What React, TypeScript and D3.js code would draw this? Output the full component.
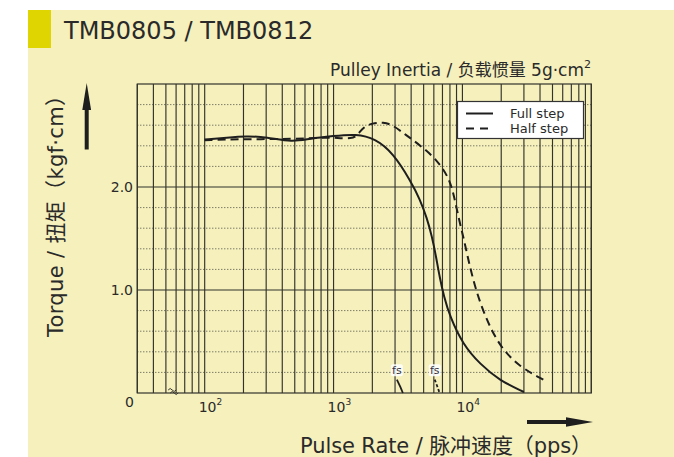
import React from "react";
import * as d3 from "d3";

// ---- data ----
const fullRate = [100, 150, 210, 300, 480, 650, 1000, 1500, 2100, 2900, 4000, 4680, 5300, 5800, 6230, 6690, 7180, 8000, 10100, 13700, 19500, 30000];
const fullTorque = [2.46, 2.48, 2.495, 2.485, 2.435, 2.47, 2.495, 2.515, 2.47, 2.33, 2.05, 1.88, 1.70, 1.52, 1.33, 1.11, 0.94, 0.74, 0.47, 0.28, 0.12, 0.01];
const halfRate = [100, 200, 500, 800, 1000, 1400, 1550, 1700, 2000, 2430, 2900, 3500, 4000, 5200, 6300, 7100, 7750, 8250, 8750, 9550, 10450, 11300, 12900, 15400, 19500, 27900, 43000];
const halfTorque = [2.455, 2.465, 2.465, 2.48, 2.48, 2.465, 2.51, 2.58, 2.62, 2.63, 2.60, 2.52, 2.47, 2.36, 2.26, 2.17, 2.09, 2.0, 1.87, 1.65, 1.45, 1.25, 0.97, 0.71, 0.45, 0.25, 0.126];
const fsFullRate = [3100, 3300, 3450];
const fsFullTorque = [0.13, 0.06, 0];
const fsHalfRate = [6100, 6400, 6650];
const fsHalfTorque = [0.13, 0.06, 0];

const xDomain = [30, 100000];
const yDomain = [0, 3];
const gridMantissas = [1, 2, 3, 4, 5, 6, 7, 8, 9];
const gridDecades = [10, 100, 1000, 10000, 100000];
const xLabelExps = [2, 3, 4];
const yMajor = [1.0, 2.0];
const yMinorStep = 0.2;
const yLabels = ["1.0", "2.0"];
const breakRate = 54;

const title = "TMB0805 / TMB0812";
const subtitle = "Pulley Inertia / 负载惯量 5g·cm";
const xTitleParts = ["Pulse Rate / 脉冲速度", "（", "pps", "）"];
const yTitleParts = ["Torque / 扭矩", "（", "kgf·cm", "）"];
const legendLabels = ["Full step", "Half step"];

const FONT = "'DejaVu Sans', 'Noto Sans CJK SC', sans-serif";
const CJK = "'Noto Sans CJK SC', sans-serif";
const INK = "#2a2a2a";

export default function App() {
  const W = 674, H = 457;
  const left = 137.3, right = 591.3, top = 84, bottom = 393;
  const x = d3.scaleLog().domain(xDomain).range([left, right]);
  const y = d3.scaleLinear().domain(yDomain).range([bottom, top]);

  const gridVals: number[] = [];
  gridDecades.forEach((d) => gridMantissas.forEach((m) => {
    const v = d * m;
    if (v >= xDomain[0] - 1e-9 && v <= xDomain[1] + 1e-9) gridVals.push(v);
  }));

  const minorY: number[] = [];
  for (let i = 1; i < Math.round(yDomain[1] / yMinorStep); i++) {
    const v = +(i * yMinorStep).toFixed(2);
    if (!yMajor.some((m) => Math.abs(m - v) < 1e-6)) minorY.push(v);
  }

  const line = d3.line<[number, number]>()
    .x((d) => x(d[0]))
    .y((d) => y(d[1]))
    .curve(d3.curveBasis);

  const fullPath = line(fullRate.map((r, i) => [r, fullTorque[i]]) as [number, number][]) || "";
  const halfPath = line(halfRate.map((r, i) => [r, halfTorque[i]]) as [number, number][]) || "";
  const fsFullPath = line(fsFullRate.map((r, i) => [r, fsFullTorque[i]]) as [number, number][]) || "";
  const fsHalfPath = line(fsHalfRate.map((r, i) => [r, fsHalfTorque[i]]) as [number, number][]) || "";

  const dash = "8,5";
  const bx = x(breakRate);

  const titleSpans = (parts: string[]) => [
    <tspan key="a">{parts[0]}</tspan>,
    <tspan key="b" fontFamily={CJK}>{parts[1]}</tspan>,
    <tspan key="c">{parts[2]}</tspan>,
    <tspan key="d" fontFamily={CJK}>{parts[3]}</tspan>,
  ];

  return (
    <svg width={W} height={H} viewBox={`0 0 ${W} ${H}`}
      style={{ position: "absolute", left: 0, top: 0, background: "#ffffff" }}
      fontFamily={FONT}>
      {/* panel */}
      <rect x={28} y={10} width={W - 28} height={H - 10} fill="#f5f0bc" />
      <rect x={28} y={10} width={23} height={38} fill="#dfd500" />
      <text x={64} y={39} fontSize={24} fill={INK}>{title}</text>
      <text x={591} y={75.5} fontSize={17} fill={INK} textAnchor="end">
        {subtitle}<tspan fontSize={11} dy={-8}>2</tspan>
      </text>

      {/* grid minor dotted */}
      {minorY.map((v) => (
        <line key={"m" + v} x1={left} x2={right} y1={y(v)} y2={y(v)}
          stroke="#4a4a40" strokeWidth={1} strokeDasharray="1,2" />
      ))}
      {/* vertical grid */}
      {gridVals.map((v) => (
        <line key={"v" + v} x1={x(v)} x2={x(v)} y1={top} y2={bottom}
          stroke="#33332c" strokeWidth={1.15} />
      ))}
      {/* major horizontal */}
      {yMajor.map((v) => (
        <line key={"M" + v} x1={left} x2={right} y1={y(v)} y2={y(v)}
          stroke="#33332c" strokeWidth={1.1} />
      ))}
      <rect x={left} y={top} width={right - left} height={bottom - top}
        fill="none" stroke="#33332c" strokeWidth={1.2} />

      {/* axis break mark */}
      <path d={`M${bx - 2},${bottom - 3} q2,-3 4,0 q2,3 4,0 M${bx},${bottom} q2,-3 4,0 q2,3 4,0`}
        fill="none" stroke="#33332c" strokeWidth={1} />

      {/* curves */}
      <path d={fullPath} fill="none" stroke="#1e1e1e" strokeWidth={2} />
      <path d={halfPath} fill="none" stroke="#1e1e1e" strokeWidth={2} strokeDasharray={dash} />
      <path d={fsFullPath} fill="none" stroke="#1e1e1e" strokeWidth={1.8} />
      <path d={fsHalfPath} fill="none" stroke="#1e1e1e" strokeWidth={1.8} strokeDasharray="3,2" />

      {/* fs labels */}
      {[fsFullRate[0], fsHalfRate[0]].map((r, i) => (
        <g key={"fs" + i}>
          <rect x={x(r) - 6} y={y(0.22) - 6} width={12} height={12} rx={2} fill="#ffffff" fillOpacity={0.85} />
          <text x={x(r)} y={y(0.22) + 4} fontSize={11} fill="#333344" textAnchor="middle">fs</text>
        </g>
      ))}

      {/* legend */}
      <rect x={457.5} y={101.5} width={126} height={37} fill="#ffffff" stroke="#333" strokeWidth={1.2} />
      <line x1={466} x2={493} y1={113.5} y2={113.5} stroke="#1e1e1e" strokeWidth={2} />
      <line x1={466} x2={493} y1={128.5} y2={128.5} stroke="#1e1e1e" strokeWidth={2} strokeDasharray="8,6" />
      <text x={510} y={118} fontSize={13} fill={INK}>{legendLabels[0]}</text>
      <text x={510} y={133} fontSize={13} fill={INK}>{legendLabels[1]}</text>

      {/* y tick labels */}
      {yMajor.map((v, i) => (
        <text key={"yl" + v} x={133} y={y(v) + 5} fontSize={14} fill={INK} textAnchor="end">{yLabels[i]}</text>
      ))}
      <text x={129.5} y={407} fontSize={14} fill={INK} textAnchor="middle">0</text>

      {/* x tick labels */}
      {xLabelExps.map((e) => (
        <text key={"xl" + e} x={x(Math.pow(10, e)) - 6} y={412} fontSize={14} fill={INK}>
          10<tspan fontSize={9} dy={-7}>{e}</tspan>
        </text>
      ))}

      {/* x title & arrow */}
      <text x={300} y={452.5} fontSize={21} fill={INK} textLength={292} lengthAdjust="spacing">{titleSpans(xTitleParts)}</text>
      <line x1={527} x2={568} y1={422} y2={422} stroke="#1e1e1e" strokeWidth={4} />
      <path d="M566,417.3 L593,422 L566,426.7 Z" fill="#1e1e1e" />

      {/* y title & arrow */}
      <text transform={`translate(63,337) rotate(-90)`} fontSize={21} fill={INK} textLength={252} lengthAdjust="spacing">{titleSpans(yTitleParts)}</text>
      <line x1={86.7} x2={86.7} y1={149.5} y2={108} stroke="#1e1e1e" strokeWidth={4} />
      <path d="M82.3,110 L86.7,83 L91.1,110 Z" fill="#1e1e1e" />
    </svg>
  );
}
